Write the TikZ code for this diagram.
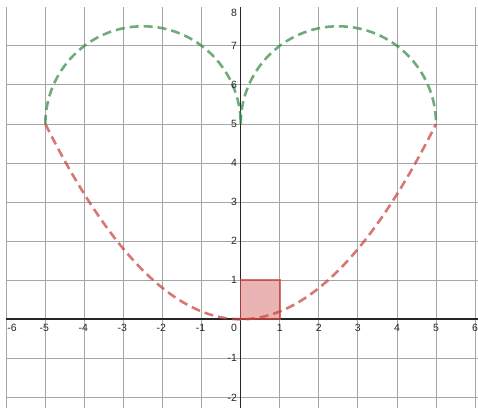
\documentclass[tikz,border=0pt]{standalone}
\usepackage{fontspec}
\setmainfont{Liberation Sans}
\definecolor{dred}{HTML}{C74440}
\definecolor{dgreen}{HTML}{388C46}
\tikzset{
  gridline/.style={draw=black!35, line width=0.9pt},
  axisline/.style={draw=black!85},
  curve/.style={line width=2.6pt, dash pattern=on 9pt off 5pt, opacity=0.72},
  ticklab/.style={font=\fontsize{10.5}{12}\selectfont, text=black!85, inner sep=0pt},
}
\begin{document}
\begin{tikzpicture}[x=39.07pt,y=39.07pt]
\useasboundingbox (-6.161,-2.270) rectangle (6.074,8.173);
\begin{scope}
\clip (-6.007,-2.270) rectangle (6.074,7.993);
% grid
\foreach \i in {-6,...,6} {\draw[gridline] (\i,-2.4) -- (\i,8.2);}
\foreach \j in {-2,...,8} {\draw[gridline] (-6.2,\j) -- (6.2,\j);}
% axes
\draw[axisline, line width=2pt] (-6.2,0) -- (6.2,0);
\draw[axisline, line width=1.6pt] (0,-2.4) -- (0,8.2);
% red square
\fill[dred, fill opacity=0.4] (0,0) rectangle (1,1);
\draw[dred, opacity=0.75, line width=1.6pt] (0,0) rectangle (1,1);
% curves
\draw[curve, dgreen] (-5,5) arc[start angle=180, end angle=0, radius=2.5];
\draw[curve, dgreen] (0,5) arc[start angle=180, end angle=0, radius=2.5];
\draw[curve, dred] plot[domain=-5:5, samples=121, smooth] (\x,{\x*\x/5});
\end{scope}
% x labels
\node[ticklab, anchor=north] (xlm6) at (-5.854,-0.12) {-6};
\foreach \i in {-5,...,-1} {\node[ticklab, anchor=north] (xl\i) at (\i-0.03,-0.12) {\i};}
\foreach \i in {1,...,6} {\node[ticklab, anchor=north] (xl\i) at (\i,-0.12) {\i};}
% y labels
\foreach \j in {-2,-1,1,2,3,4,5,6,7} {\node[ticklab, anchor=east] (yl\j) at (-0.09,\j) {\j};}
\node[ticklab, anchor=east] (yl8) at (-0.09,7.832) {8};
\node[ticklab, anchor=north east] (orig) at (-0.09,-0.12) {0};
\end{tikzpicture}
\end{document}
